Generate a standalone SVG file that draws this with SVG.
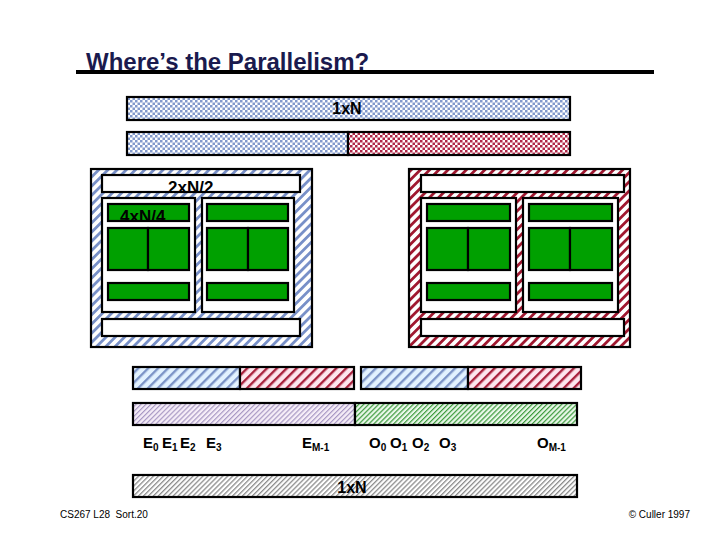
<svg xmlns="http://www.w3.org/2000/svg" width="720" height="540" viewBox="0 0 720 540">
<defs>
<pattern id="dotBlue" width="5" height="5" patternUnits="userSpaceOnUse">
<rect width="5" height="5" fill="#ffffff"/>
<rect x="0" y="0" width="2.5" height="2.5" fill="#8299cc"/>
<rect x="2.5" y="2.5" width="2.5" height="2.5" fill="#8299cc"/>
</pattern>
<pattern id="dotRed" width="5" height="5" patternUnits="userSpaceOnUse">
<rect width="5" height="5" fill="#ffffff"/>
<rect x="0" y="0" width="2.5" height="2.5" fill="#b02848"/>
<rect x="2.5" y="2.5" width="2.5" height="2.5" fill="#b02848"/>
</pattern>
<pattern id="hatchBlue" width="6.5" height="6.5" patternUnits="userSpaceOnUse" patternTransform="rotate(45)">
<rect width="6.5" height="6.5" fill="#ffffff"/>
<rect x="0" y="0" width="2.8" height="6.5" fill="#7890c8"/>
</pattern>
<pattern id="hatchRed" width="6.5" height="6.5" patternUnits="userSpaceOnUse" patternTransform="rotate(45)">
<rect width="6.5" height="6.5" fill="#ffffff"/>
<rect x="0" y="0" width="2.8" height="6.5" fill="#a01830"/>
</pattern>
<pattern id="stripeBlue" width="7" height="7" patternUnits="userSpaceOnUse" patternTransform="rotate(45)">
<rect width="7" height="7" fill="#e2f2ff"/>
<rect x="0" y="0" width="2.4" height="7" fill="#7b93c6"/>
</pattern>
<pattern id="stripeRed" width="7" height="7" patternUnits="userSpaceOnUse" patternTransform="rotate(45)">
<rect width="7" height="7" fill="#fde6ee"/>
<rect x="0" y="0" width="2.4" height="7" fill="#a8203c"/>
</pattern>
<pattern id="finePurple" width="3.5" height="3.5" patternUnits="userSpaceOnUse" patternTransform="rotate(45)">
<rect width="3.5" height="3.5" fill="#f6eef8"/>
<rect x="0" y="0" width="1.2" height="3.5" fill="#a898c4"/>
</pattern>
<pattern id="fineGreen" width="3.5" height="3.5" patternUnits="userSpaceOnUse" patternTransform="rotate(45)">
<rect width="3.5" height="3.5" fill="#eaf8ea"/>
<rect x="0" y="0" width="1.2" height="3.5" fill="#3c9a3c"/>
</pattern>
<pattern id="fineGray" width="3.5" height="3.5" patternUnits="userSpaceOnUse" patternTransform="rotate(45)">
<rect width="3.5" height="3.5" fill="#ffffff"/>
<rect x="0" y="0" width="1.3" height="3.5" fill="#8c8c8c"/>
</pattern>
</defs>
<style>
.b{stroke:#000;stroke-width:2.2}
.w{fill:#fff;stroke:#000;stroke-width:2.2}
.g{fill:#00a000;stroke:#000;stroke-width:2.2}
.t{font-family:"Liberation Sans",Arial,sans-serif;font-weight:bold;fill:#000}
.lbl{font-family:"Liberation Sans",Arial,sans-serif;font-weight:bold;font-size:15px;fill:#000}
.sub{font-size:10px}
.foot{font-family:"Liberation Sans",Arial,sans-serif;font-size:10px;fill:#000}
</style>
<rect width="720" height="540" fill="#fff"/>

<g id="title">
<text x="86" y="70" font-family="Liberation Sans, Arial, sans-serif" font-weight="bold" font-size="24" fill="#1a1a4e">Where’s the Parallelism?</text>
<rect x="76" y="70" width="578" height="4" fill="#000"/>
</g>

<g id="bar1">
<rect x="127" y="97" width="443" height="23" fill="url(#dotBlue)" class="b"/>
<text x="347" y="114" class="t" font-size="16" text-anchor="middle">1xN</text>
</g>
<g id="bar2">
<rect x="127" y="132" width="221" height="23" fill="url(#dotBlue)" class="b"/>
<rect x="348" y="132" width="222" height="23" fill="url(#dotRed)" class="b"/>
</g>

<g id="leftBox">
<rect x="91" y="169" width="221" height="178" fill="url(#hatchBlue)" class="b"/>
<rect x="102" y="175" width="198" height="17" class="w"/>
<rect x="102" y="198" width="93" height="114" class="w"/>
<rect x="202" y="198" width="92" height="114" class="w"/>
<rect x="108" y="204" width="81" height="17" class="g"/>
<rect x="108" y="228" width="40" height="42" class="g"/>
<rect x="148" y="228" width="41" height="42" class="g"/>
<rect x="108" y="283" width="81" height="17" class="g"/>
<rect x="207" y="204" width="81" height="17" class="g"/>
<rect x="207" y="228" width="41" height="42" class="g"/>
<rect x="248" y="228" width="40" height="42" class="g"/>
<rect x="207" y="283" width="81" height="17" class="g"/>
<rect x="102" y="319" width="198" height="17" class="w"/>
<text x="168" y="193" class="t" font-size="17">2xN/2</text>
<text x="120" y="222" class="t" font-size="17">4xN/4</text>
</g>

<g id="rightBox">
<rect x="409" y="169" width="221" height="178" fill="url(#hatchRed)" class="b"/>
<rect x="421" y="175" width="203" height="17" class="w"/>
<rect x="421" y="198" width="95" height="114" class="w"/>
<rect x="523" y="198" width="95" height="114" class="w"/>
<rect x="427" y="204" width="83" height="17" class="g"/>
<rect x="427" y="228" width="41" height="42" class="g"/>
<rect x="468" y="228" width="42" height="42" class="g"/>
<rect x="427" y="283" width="83" height="17" class="g"/>
<rect x="529" y="204" width="83" height="17" class="g"/>
<rect x="529" y="228" width="41" height="42" class="g"/>
<rect x="570" y="228" width="42" height="42" class="g"/>
<rect x="529" y="283" width="83" height="17" class="g"/>
<rect x="421" y="319" width="203" height="17" class="w"/>
</g>

<g id="row1">
<rect x="133" y="367" width="107" height="22" fill="url(#stripeBlue)" class="b"/>
<rect x="240" y="367" width="114" height="22" fill="url(#stripeRed)" class="b"/>
<rect x="361" y="367" width="107" height="22" fill="url(#stripeBlue)" class="b"/>
<rect x="468" y="367" width="113" height="22" fill="url(#stripeRed)" class="b"/>
</g>
<g id="row2">
<rect x="133" y="403" width="222" height="22" fill="url(#finePurple)" class="b"/>
<rect x="355" y="403" width="222" height="22" fill="url(#fineGreen)" class="b"/>
</g>

<g id="labels">
<text x="143" y="448" class="lbl">E<tspan class="sub" dy="3">0</tspan></text>
<text x="162" y="448" class="lbl">E<tspan class="sub" dy="3">1</tspan></text>
<text x="180" y="448" class="lbl">E<tspan class="sub" dy="3">2</tspan></text>
<text x="206" y="448" class="lbl">E<tspan class="sub" dy="3">3</tspan></text>
<text x="302" y="448" class="lbl">E<tspan class="sub" dy="3">M-1</tspan></text>
<text x="369" y="448" class="lbl">O<tspan class="sub" dy="3">0</tspan></text>
<text x="390" y="448" class="lbl">O<tspan class="sub" dy="3">1</tspan></text>
<text x="412" y="448" class="lbl">O<tspan class="sub" dy="3">2</tspan></text>
<text x="439" y="448" class="lbl">O<tspan class="sub" dy="3">3</tspan></text>
<text x="537" y="448" class="lbl">O<tspan class="sub" dy="3">M-1</tspan></text>
</g>

<g id="bar3">
<rect x="133" y="475" width="444" height="22" fill="url(#fineGray)" class="b"/>
<text x="352" y="493" class="t" font-size="16" text-anchor="middle">1xN</text>
</g>

<g id="footer">
<text x="60" y="518" class="foot" xml:space="preserve">CS267 L28  Sort.20</text>
<text x="690" y="518" class="foot" text-anchor="end">© Culler 1997</text>
</g>
</svg>
